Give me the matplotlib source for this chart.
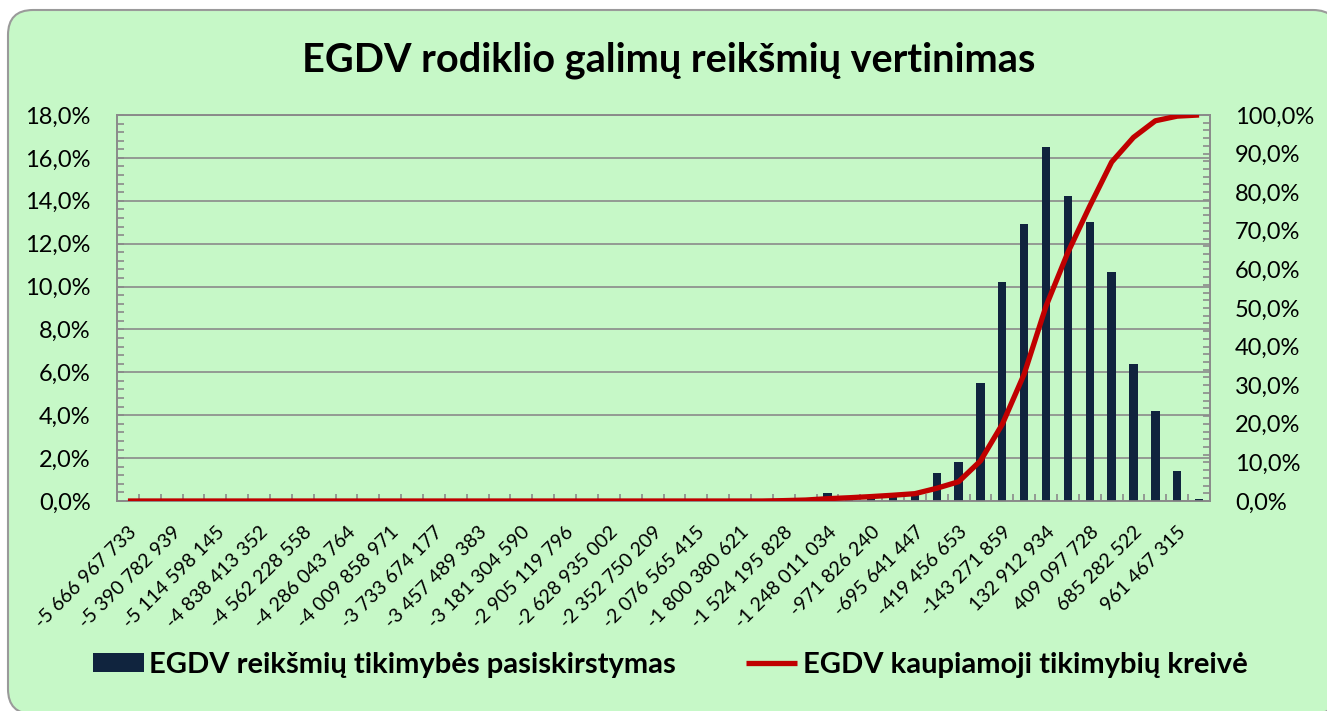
import matplotlib
matplotlib.use('Agg')
from matplotlib import pyplot as plt
from matplotlib.patches import FancyBboxPatch
from matplotlib.ticker import FuncFormatter, MultipleLocator

plt.rcParams['font.family'] = ['Lato', 'DejaVu Sans']

bg_green = '#C6F8C7'
bar_color = '#10243E'
line_color = '#C00000'
grey = '#8A8A8A'

# 50 classes of EGDV value, label shown on every other class
tick_labels = ['-5 666 967 733', '-5 390 782 939', '-5 114 598 145', '-4 838 413 352',
               '-4 562 228 558', '-4 286 043 764', '-4 009 858 971', '-3 733 674 177',
               '-3 457 489 383', '-3 181 304 590', '-2 905 119 796', '-2 628 935 002',
               '-2 352 750 209', '-2 076 565 415', '-1 800 380 621', '-1 524 195 828',
               '-1 248 011 034', '-971 826 240', '-695 641 447', '-419 456 653',
               '-143 271 859', '132 912 934', '409 097 728', '685 282 522', '961 467 315']

# probability of each class, %
prob = [0.0, 0.0, 0.0, 0.0, 0.0, 0.0, 0.0, 0.0, 0.0, 0.0,
        0.0, 0.0, 0.0, 0.0, 0.0, 0.0, 0.0, 0.0, 0.0, 0.0,
        0.0, 0.0, 0.0, 0.0, 0.0, 0.0, 0.0, 0.0, 0.0, 0.0,
        0.1, 0.15, 0.35, 0.25, 0.3, 0.35, 0.4, 1.3, 1.8, 5.5,
        10.2, 12.9, 16.5, 14.2, 13.0, 10.7, 6.4, 4.2, 1.4, 0.1]

# cumulative probability curve, %
cum = [0.0, 0.0, 0.0, 0.0, 0.0, 0.0, 0.0, 0.0, 0.0, 0.0,
       0.0, 0.0, 0.0, 0.0, 0.0, 0.0, 0.0, 0.0, 0.0, 0.0,
       0.0, 0.0, 0.0, 0.0, 0.0, 0.0, 0.0, 0.0, 0.0, 0.0,
       0.1, 0.25, 0.6, 0.85, 1.15, 1.5, 1.9, 3.3, 5.0, 10.4,
       19.9, 32.9, 50.5, 64.4, 76.4, 87.8, 94.2, 98.5, 99.7, 100.0]

fig = plt.figure(figsize=(13.27, 7.11), dpi=100, facecolor='white')
frame = FancyBboxPatch((0.08, -0.03), 13.3, 7.04, boxstyle='round,pad=0,rounding_size=0.25',
                       transform=fig.dpi_scale_trans, facecolor=bg_green,
                       edgecolor='#9A9A9A', lw=1.5, zorder=-10)
fig.patches.append(frame)

ax = fig.add_axes([117/1327, 1 - 501/711, (1210 - 117)/1327, (501 - 115)/711])
ax.patch.set_visible(False)
ax2 = ax.twinx()
ax2.patch.set_visible(False)

x = list(range(len(prob)))
bars = ax.bar(x, [p / 100 for p in prob], width=0.38, color=bar_color, zorder=3,
              label='EGDV reikšmių tikimybės pasiskirstymas')
line, = ax2.plot(x, [c / 100 for c in cum], color=line_color, lw=3.8,
                 solid_capstyle='butt', zorder=4,
                 label='EGDV kaupiamoji tikimybių kreivė')

ax.set_xlim(-0.5, len(prob) - 0.5)
ax.set_ylim(0, 0.18)
ax2.set_ylim(0, 1.0)

ax.yaxis.set_major_locator(MultipleLocator(0.02))
ax.yaxis.set_minor_locator(MultipleLocator(0.004))
ax2.yaxis.set_major_locator(MultipleLocator(0.1))
ax2.yaxis.set_minor_locator(MultipleLocator(0.02))
pct = FuncFormatter(lambda v, pos: '{:.1f}%'.format(v * 100).replace('.', ','))
ax.yaxis.set_major_formatter(pct)
ax2.yaxis.set_major_formatter(pct)

ax.grid(axis='y', color=grey, lw=1.2, zorder=1)
ax.set_axisbelow(True)

ax.set_xticks(x[::2])
ax.set_xticklabels(tick_labels, rotation=45, ha='right', va='top',
                   rotation_mode='anchor', fontsize=14)
ax.set_xticks([i - 0.5 for i in range(len(prob) + 1)], minor=True)
ax.tick_params(axis='x', which='major', length=0, pad=16)
ax.tick_params(axis='x', which='minor', direction='in', length=5, color=grey, width=1.2)
ax.tick_params(axis='y', which='both', direction='in', color=grey, width=1.2,
               labelsize=17, pad=19)
ax.tick_params(axis='y', which='major', length=5)
ax.tick_params(axis='y', which='minor', length=5)
ax2.tick_params(axis='y', which='both', direction='in', color=grey, width=1.2,
                labelsize=17, pad=18, length=5)

for a in (ax, ax2):
    for s in a.spines.values():
        s.set_color(grey)
        s.set_linewidth(1.2)

fig.text(0.504, 1 - 60/711, 'EGDV rodiklio galimų reikšmių vertinimas',
         ha='center', va='center', fontsize=28.5, fontweight='bold')

fig.legend(handles=[bars, line], loc='center', bbox_to_anchor=(0.505, 1 - 665/711),
           ncol=2, frameon=False, prop={'weight': 'bold', 'size': 21},
           handlelength=1.75, handleheight=0.6, handletextpad=0.2, columnspacing=2.4)

fig.savefig('out.png', dpi=100, facecolor='white')
